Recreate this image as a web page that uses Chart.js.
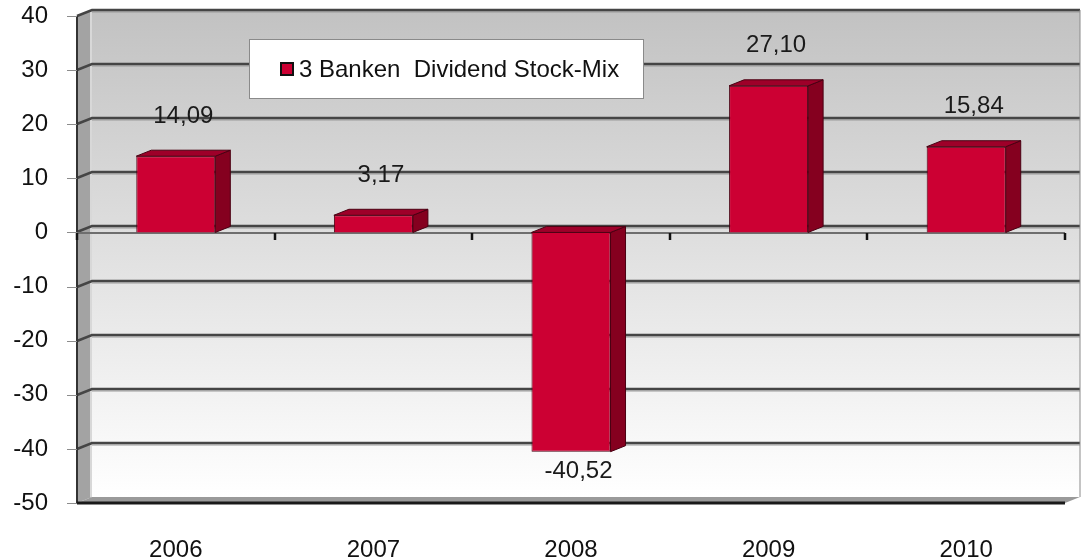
<!DOCTYPE html>
<html>
<head>
<meta charset="utf-8">
<title>3 Banken Dividend Stock-Mix</title>
<script src="https://cdn.jsdelivr.net/npm/chart.js"></script>
<style>
  html, body { margin:0; padding:0; background:#fff; }
  #wrap { width:1082px; height:558px; }
</style>
</head>
<body>
<div id="wrap"><canvas id="perfChart" width="1082" height="558"></canvas></div>
<script>
// data
const years = ['2006', '2007', '2008', '2009', '2010'];
const returns = [14.09, 3.17, -40.52, 27.10, 15.84];
const seriesName = '3 Banken  Dividend Stock-Mix';
const yMin = -50, yMax = 40, yStep = 10;

const FONT = '"Liberation Sans", Arial, sans-serif';
const barFront = '#cc0033', barSide = '#85001f', barTop = '#9e0029';
const depth = { dx: 15, dy: -6 };

function fmt(v){ return v.toFixed(2).replace('.', ','); }

const wall3d = {
  id: 'wall3d',
  beforeDraw(chart){
    const ctx = chart.ctx, a = chart.chartArea, y = chart.scales.y, x = chart.scales.x;
    const dx = depth.dx, dy = depth.dy;
    ctx.save();
    // back wall
    const g = ctx.createLinearGradient(0, a.top + dy, 0, a.bottom + dy);
    g.addColorStop(0, '#c2c2c2');
    g.addColorStop(1, '#ffffff');
    ctx.fillStyle = g;
    ctx.fillRect(a.left + dx, a.top + dy, a.right - a.left, a.bottom - a.top);
    // left side wall
    ctx.fillStyle = '#a3a3a3';
    ctx.beginPath();
    ctx.moveTo(a.left, a.top); ctx.lineTo(a.left + dx, a.top + dy);
    ctx.lineTo(a.left + dx, a.bottom + dy); ctx.lineTo(a.left, a.bottom);
    ctx.closePath(); ctx.fill();
    ctx.strokeStyle = '#d8d8d8'; ctx.lineWidth = 2;
    ctx.beginPath(); ctx.moveTo(a.left + dx - 1, a.top + dy); ctx.lineTo(a.left + dx - 1, a.bottom + dy); ctx.stroke();
    // floor
    ctx.fillStyle = '#9a9a9a';
    ctx.beginPath();
    ctx.moveTo(a.left, a.bottom); ctx.lineTo(a.left + dx, a.bottom + dy);
    ctx.lineTo(a.right + dx, a.bottom + dy); ctx.lineTo(a.right, a.bottom);
    ctx.closePath(); ctx.fill();
    // gridlines on the back wall + side wall
    y.ticks.forEach(t => {
      const py = Math.round(y.getPixelForValue(t.value));
      if (t.value === yMin) return;
      ctx.strokeStyle = '#9a9a9a'; ctx.lineWidth = 1;
      ctx.beginPath(); ctx.moveTo(a.left + dx, py + dy + 2); ctx.lineTo(a.right + dx, py + dy + 2); ctx.stroke();
      ctx.strokeStyle = '#454545'; ctx.lineWidth = 2.5;
      ctx.beginPath();
      ctx.moveTo(a.left, py); ctx.lineTo(a.left + dx, py + dy);
      ctx.lineTo(a.right + dx, py + dy);
      ctx.stroke();
    });
    // right edge of back wall
    ctx.strokeStyle = '#8a8a8a'; ctx.lineWidth = 1;
    ctx.beginPath(); ctx.moveTo(a.right + dx, a.top + dy); ctx.lineTo(a.right + dx, a.bottom + dy); ctx.stroke();
    // front left edge
    ctx.strokeStyle = '#333'; ctx.lineWidth = 2;
    ctx.beginPath(); ctx.moveTo(a.left, a.top); ctx.lineTo(a.left, a.bottom); ctx.stroke();
    // bottom edge
    ctx.strokeStyle = '#1a1a1a'; ctx.lineWidth = 3;
    ctx.beginPath(); ctx.moveTo(a.left, a.bottom); ctx.lineTo(a.right, a.bottom); ctx.stroke();
    // y tick marks
    ctx.strokeStyle = '#8c8c8c'; ctx.lineWidth = 1;
    y.ticks.forEach(t => {
      const py = Math.round(y.getPixelForValue(t.value)) + 0.5;
      ctx.beginPath(); ctx.moveTo(a.left - 10, py); ctx.lineTo(a.left, py); ctx.stroke();
    });
    // zero axis with category ticks
    const y0 = Math.round(y.getPixelForValue(0)) + 1;
    ctx.strokeStyle = '#6e6e6e'; ctx.lineWidth = 2;
    ctx.beginPath(); ctx.moveTo(a.left, y0); ctx.lineTo(a.right, y0); ctx.stroke();
    const cw = (x.getPixelForTick(1) - x.getPixelForTick(0));
    ctx.strokeStyle = '#111'; ctx.lineWidth = 2.5;
    for (let i = 0; i <= years.length; i++) {
      const px = Math.round(x.getPixelForTick(0) - cw / 2 + i * cw);
      ctx.beginPath(); ctx.moveTo(px, y0); ctx.lineTo(px, y0 + 7); ctx.stroke();
    }
    ctx.restore();
  },
  afterDatasetsDraw(chart){
    const ctx = chart.ctx, dx = depth.dx, dy = depth.dy;
    const meta = chart.getDatasetMeta(0);
    ctx.save();
    ctx.lineWidth = 1; ctx.strokeStyle = '#4a0012'; ctx.lineJoin = 'round';
    meta.data.forEach((bar, i) => {
      const p = bar.getProps(['x', 'y', 'base', 'width'], true);
      const l = p.x - p.width / 2, r = p.x + p.width / 2;
      const top = Math.min(p.y, p.base), bot = Math.max(p.y, p.base);
      // side face
      ctx.fillStyle = barSide;
      ctx.beginPath();
      ctx.moveTo(r, top); ctx.lineTo(r + dx, top + dy); ctx.lineTo(r + dx, bot + dy); ctx.lineTo(r, bot);
      ctx.closePath(); ctx.fill(); ctx.stroke();
      // top face
      ctx.fillStyle = barTop;
      ctx.beginPath();
      ctx.moveTo(l, top); ctx.lineTo(l + dx, top + dy); ctx.lineTo(r + dx, top + dy); ctx.lineTo(r, top);
      ctx.closePath(); ctx.fill(); ctx.stroke();
      // value label
      const v = returns[i];
      ctx.fillStyle = '#1a1a1a';
      ctx.font = '24px ' + FONT;
      ctx.textAlign = 'center'; ctx.textBaseline = 'middle';
      const ly = v >= 0 ? top - 40 : bot + 20;
      ctx.fillText(fmt(v), p.x + dx / 2, ly);
    });
    ctx.restore();
  },
  afterDraw(chart){
    // legend box inside the plot
    const ctx = chart.ctx;
    ctx.save();
    ctx.fillStyle = '#fff'; ctx.strokeStyle = '#8a8a8a'; ctx.lineWidth = 1;
    ctx.fillRect(249, 39, 394, 59);
    ctx.strokeRect(249.5, 39.5, 394, 59);
    ctx.fillStyle = barFront; ctx.strokeStyle = '#111'; ctx.lineWidth = 2;
    ctx.fillRect(281, 63, 12, 12); ctx.strokeRect(281, 63, 12, 12);
    ctx.fillStyle = '#111';
    ctx.font = '24px ' + FONT;
    ctx.textAlign = 'left'; ctx.textBaseline = 'middle';
    ctx.fillText(chart.data.datasets[0].label, 299, 70);
    ctx.restore();
  }
};

new Chart(document.getElementById('perfChart').getContext('2d'), {
  type: 'bar',
  data: {
    labels: years,
    datasets: [{
      label: seriesName,
      data: returns,
      backgroundColor: barFront,
      borderColor: '#4a0012',
      borderWidth: 1,
      barPercentage: 0.4,
      categoryPercentage: 1.0
    }]
  },
  options: {
    responsive: false,
    animation: false,
    layout: { padding: { top: 16, right: 17, left: 0, bottom: 0 } },
    plugins: { legend: { display: false }, tooltip: { enabled: false } },
    scales: {
      x: {
        grid: { display: false, drawTicks: false },
        border: { display: false },
        ticks: { color: '#111', font: { family: FONT, size: 24 }, padding: 33 },
        afterFit(s){ s.height = 55; s.paddingLeft = 0; s.paddingRight = 0; }
      },
      y: {
        min: yMin, max: yMax,
        grid: { display: false, drawTicks: false },
        border: { display: false },
        ticks: { stepSize: yStep, color: '#111', font: { family: FONT, size: 24 }, padding: 29 },
        afterFit(s){ s.width = 77; s.paddingTop = 0; s.paddingBottom = 0; }
      }
    }
  },
  plugins: [wall3d]
});
</script>
</body>
</html>
